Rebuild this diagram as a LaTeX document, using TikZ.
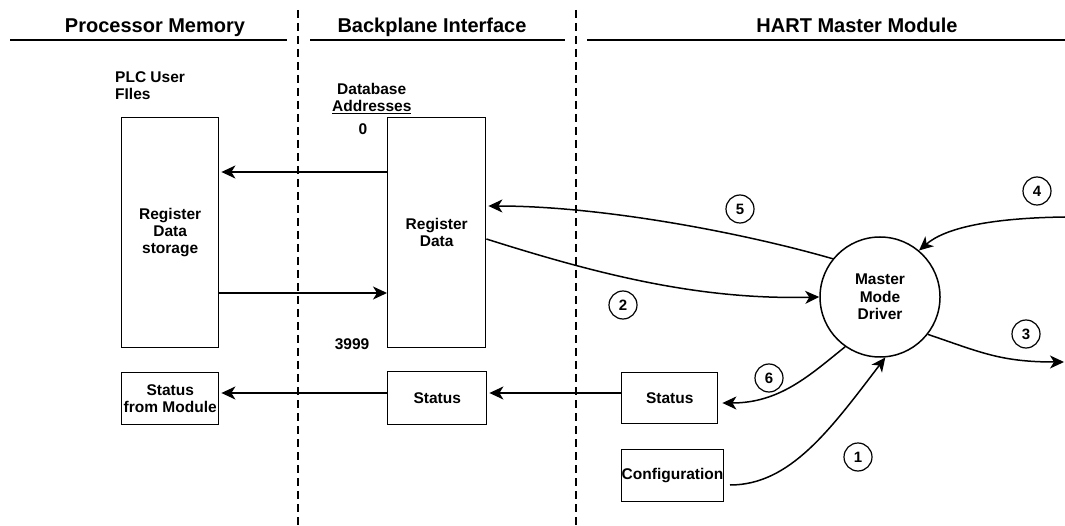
\documentclass[tikz,border=0pt]{standalone}
\usepackage{fontspec}
\setmainfont{Liberation Sans}
\usetikzlibrary{arrows.meta}
\begin{document}
\begin{tikzpicture}[x=1pt,y=-1pt,
  hdr/.style={font=\bfseries\fontsize{20}{24}\selectfont, inner sep=0pt},
  txt/.style={font=\bfseries\fontsize{15.5}{17}\selectfont, inner sep=0pt},
  box/.style={draw, line width=1.4pt, inner sep=0pt, align=center,
    font=\bfseries\fontsize{15.5}{17}\selectfont},
  num/.style={circle, draw, line width=1.2pt, minimum size=28pt, inner sep=0pt,
    font=\bfseries\fontsize{15}{15}\selectfont},
  hline/.style={line width=1.5pt},
  divider/.style={line width=1.5pt, dash pattern=on 8pt off 5pt},
  conn/.style={line width=1.5pt, -{Stealth[length=14pt,width=13pt,inset=4pt]}},
  wire/.style={line width=1.5pt}]
\useasboundingbox (0,0) rectangle (1065,526);

% headers
\node[hdr, anchor=base] (h1) at (155,33) {Processor Memory};
\node[hdr, anchor=base] (h2) at (432,33) {Backplane Interface};
\node[hdr, anchor=base] (h3) at (857,33) {HART Master Module};
\draw[hline] (10,40) -- (287,40);
\draw[hline] (310,40) -- (565,40);
\draw[hline] (587,40) -- (1065,40);

% dividers
\draw[divider] (298,10) -- (298,526);
\draw[divider] (576,10) -- (576,526);

% labels
\node[txt, anchor=base west] (plc1) at (115,83) {PLC User};
\node[txt, anchor=base west] (plc2) at (115,100) {FIles};
\node[txt, anchor=base west] (db1) at (337,95) {Database};
\node[txt, anchor=base west] (db2) at (332,112) {\underline{Addresses}};
\node[txt, anchor=base] (a0) at (363,135) {0};
\node[txt, anchor=base] (a3999) at (352,350) {3999};

% boxes
\node[box, anchor=north west, minimum width=97pt, minimum height=230pt] (regstore) at (121,117) {Register\\Data\\storage};
\node[box, anchor=north west, minimum width=98pt, minimum height=230pt] (regdata) at (387,117) {Register\\Data};
\node[box, anchor=north west, minimum width=97pt, minimum height=52pt] (sfm) at (121,372) {Status\\from Module};
\node[box, anchor=north west, minimum width=99pt, minimum height=53pt] (bstatus) at (387,371) {Status};
\node[box, anchor=north west, minimum width=96pt, minimum height=51pt] (hstatus) at (621,372) {Status};
\node[box, anchor=north west, minimum width=96pt, minimum height=52pt] (config) at (621,449) {Configuration};

% driver
\node[circle, draw, line width=1.5pt, minimum size=120pt, inner sep=0pt, align=center,
  font=\bfseries\fontsize{15.5}{17.5}\selectfont] (driver) at (880,297) {Master\\Mode\\Driver};

% number labels
\node[num] (n5) at (740,209) {5};
\node[num] (n2) at (623,305) {2};
\node[num] (n4) at (1037,191) {4};
\node[num] (n3) at (1026,334) {3};
\node[num] (n6) at (769,378) {6};
\node[num] (n1) at (858,457) {1};

% free ends
\coordinate (e4) at (1065,217);
\coordinate (e3) at (1064,362);

% straight connectors
\draw[conn, shorten >=2pt] (regdata.west |- 0,172) -- (regstore.east |- 0,172);
\draw[conn] (regstore.east |- 0,293) -- (regdata.west |- 0,293);
\draw[conn, shorten >=2pt] (bstatus.west |- 0,393) -- (sfm.east |- 0,393);
\draw[conn, shorten >=2pt] (hstatus.west |- 0,393) -- (bstatus.east |- 0,393);

% curved connectors
\draw[conn, shorten >=2pt] (driver.141) .. controls (740,232) and (600,206) .. (regdata.east |- 0,206);
\draw[conn] (regdata.east |- 0,239) .. controls (600,275) and (700,300) .. (driver.west);
\draw[conn] (e4) .. controls (990,218) and (945,228) .. (driver.50);
\draw[conn] (driver.-38) .. controls (980,352) and (1000,362) .. (e3);
\draw[conn, shorten >=4pt] (driver.235) .. controls (810,375) and (780,403) .. (hstatus.east |- 0,403);
\draw[conn] ([xshift=6pt]config.east |- 0,485) .. controls (790,485) and (830,430) .. (driver.-85);
\end{tikzpicture}
\end{document}
